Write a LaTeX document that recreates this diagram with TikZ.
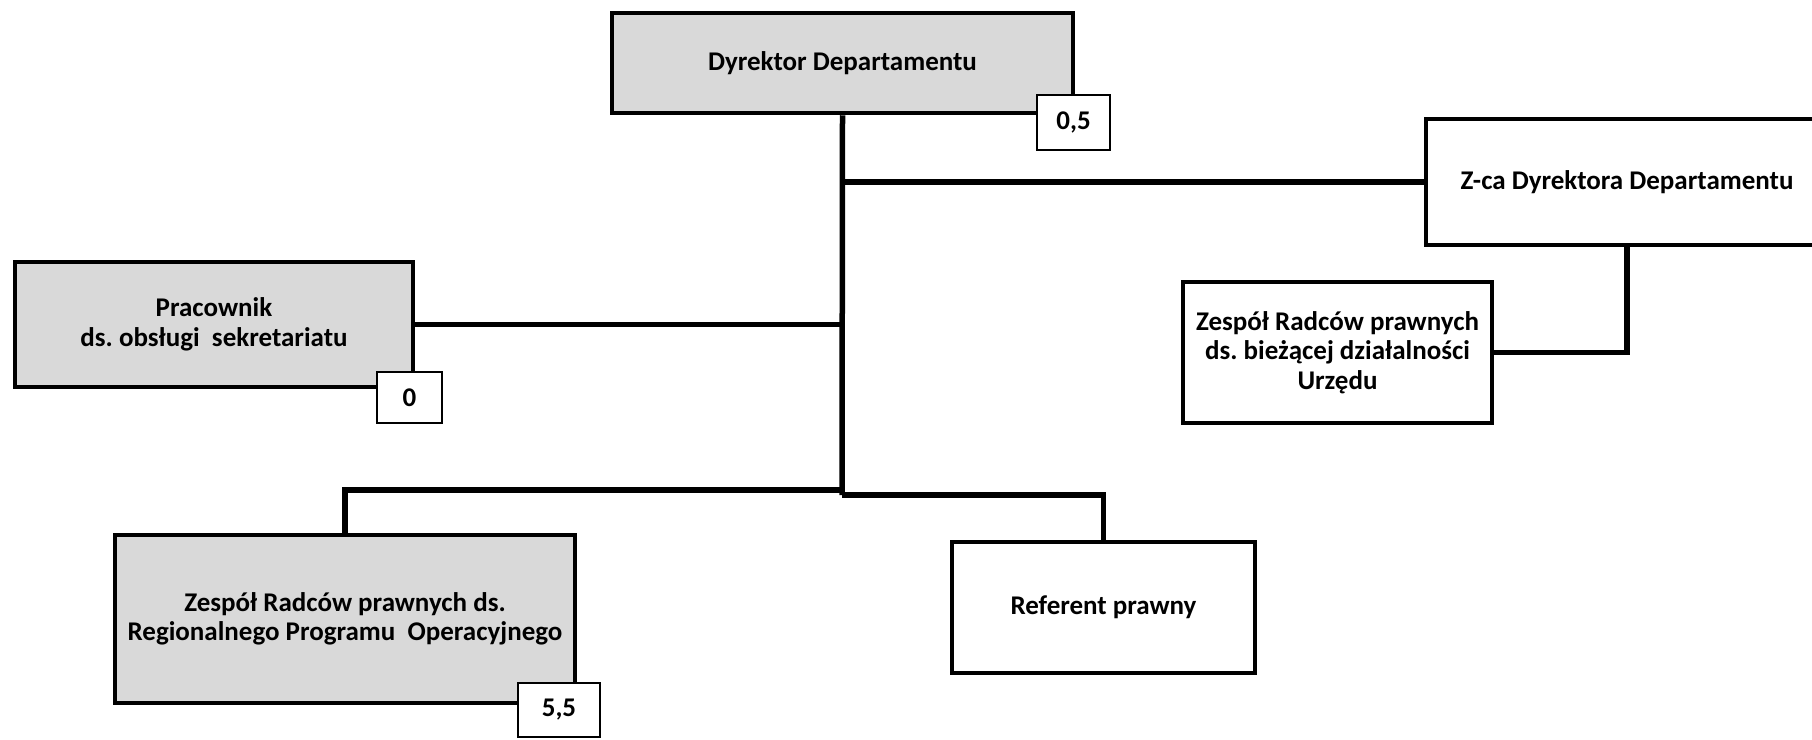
\documentclass[tikz,border=0pt]{standalone}
\usepackage{fontspec}
\setmainfont{Carlito}
\usetikzlibrary{positioning}
\definecolor{boxgray}{HTML}{D9D9D9}
\newcommand{\unitfont}{\fontsize{27}{29.5}\selectfont\bfseries}
\tikzset{
  unit/.style={draw,line width=4.5pt,align=center,font=\unitfont,inner sep=0pt},
  grayunit/.style={unit,fill=boxgray},
  badge/.style={draw,line width=2pt,fill=white,font=\unitfont,inner sep=0pt},
  link/.style={line width=5.5pt}
}
\begin{document}
\begin{tikzpicture}[x=1pt,y=-1pt]
  \useasboundingbox (0,0) rectangle (1812,739);
  % units
  \node[grayunit,minimum width=461,minimum height=100] (dyr) at (842.5,63) {Dyrektor Departamentu};
  \node[unit,fill=white,minimum width=402,minimum height=126] (zca) at (1627,182) {Z-ca Dyrektora Departamentu};
  \node[unit,fill=white,minimum width=309,minimum height=141] (zrb) at (1337.5,352.5) {Zespół Radców prawnych\\ds.\ bieżącej działalności\\Urzędu};
  \node[grayunit,minimum width=398,minimum height=125] (prac) at (214,324.5) {Pracownik\\ds.\ obsługi~~sekretariatu};
  \node[grayunit,minimum width=460,minimum height=168] (zrr) at (345,619) {Zespół Radców prawnych ds.\\Regionalnego Programu~~Operacyjnego};
  \node[unit,fill=white,minimum width=303,minimum height=131] (ref) at (1103.5,607.5) {Referent prawny};
  % posts
  \node[badge,minimum width=73,minimum height=55] (dyrN) at (1073.5,122.5) {0,5};
  \node[badge,minimum width=65,minimum height=51] (pracN) at (409.5,397.5) {0};
  \node[badge,minimum width=82,minimum height=54] (zrrN) at (559,710) {5,5};
  % connectors
  \coordinate (forkL) at (842,490);
  \coordinate (forkR) at (842,495);
  \draw[link] (dyr.south) -- (forkR);
  \draw[link] (zca.west -| dyr.south) -- (zca.west);
  \draw[link] (prac.east) -- (prac.east -| dyr.south);
  \draw[link] (zca.south) |- (zrb.east);
  \draw[link] (forkL) -| (zrr.north);
  \draw[link] (forkR) -| (ref.north);
\end{tikzpicture}
\end{document}
